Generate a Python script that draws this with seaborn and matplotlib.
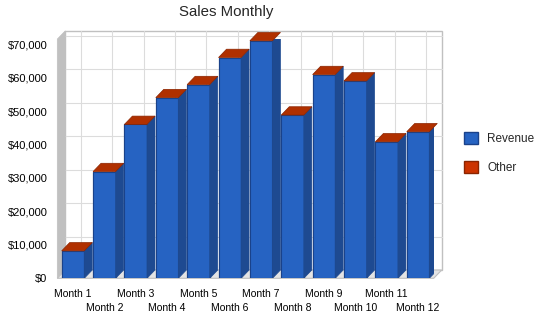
import matplotlib
matplotlib.use("Agg")
import matplotlib.pyplot as plt
from matplotlib.patches import Polygon, Patch
import pandas as pd
import seaborn as sns

## Data
months = ["Month 1", "Month 2", "Month 3", "Month 4", "Month 5", "Month 6",
          "Month 7", "Month 8", "Month 9", "Month 10", "Month 11", "Month 12"]
revenue = [8200, 31900, 46000, 54000, 57900, 66000, 71000, 48800, 60900, 59000, 40800, 43800]
other = [0, 0, 0, 0, 0, 0, 0, 0, 0, 0, 0, 0]
ytick_vals = [0, 10000, 20000, 30000, 40000, 50000, 60000, 70000]
ytick_labels = ["$0", "$10,000", "$20,000", "$30,000", "$40,000", "$50,000", "$60,000", "$70,000"]

df = pd.DataFrame({"month": months, "Revenue": revenue, "Other": other})
df["total"] = df["Revenue"] + df["Other"]

## Style
sns.set_style("white")
plt.rcParams["font.family"] = ["Liberation Sans", "DejaVu Sans"]

blue, blue_side, blue_edge = "#2663C2", "#1E4A91", "#1A428A"
red, red_side, red_top = "#CC3300", "#8A2400", "#B03000"
wall, grid = "#C0C0C0", "#DCDCDC"

fig = plt.figure(figsize=(5.5, 3.18), dpi=100)
ax = fig.add_axes([57.3 / 550, (318 - 278.3) / 318, 376.4 / 550, 239.2 / 318])
ymax = 71500
ax.set_xlim(-0.5, 11.5)
ax.set_ylim(0, ymax)

# depth of the fake 3d box, in data units (~8 px each way)
dx = 8 / 31.37
dy = 8.3 / 33.45 * 10000

## Box: back wall, grid, left wall, floor
ax.add_patch(Polygon([(-0.5 + dx, dy), (11.5 + dx, dy), (11.5 + dx, ymax + dy), (-0.5 + dx, ymax + dy)],
                     closed=True, facecolor="white", edgecolor=wall, lw=1, zorder=0.1, clip_on=False))
for v in ytick_vals[1:]:
    ax.plot([-0.5 + dx, 11.5 + dx], [v + dy, v + dy], color=grid, lw=0.8, zorder=0.2, clip_on=False)
for i in range(len(months)):
    ax.plot([i + dx, i + dx], [dy, ymax + dy], color=grid, lw=0.8, zorder=0.2, clip_on=False)
ax.add_patch(Polygon([(-0.5, 0), (-0.5 + dx, dy), (-0.5 + dx, ymax + dy), (-0.5, ymax)],
                     closed=True, facecolor=wall, edgecolor=wall, lw=0.5, zorder=0.3, clip_on=False))
ax.add_patch(Polygon([(-0.5, 0), (11.5, 0), (11.5 + dx, dy), (-0.5 + dx, dy)],
                     closed=True, facecolor="#E4E4E4", edgecolor=wall, lw=0.8, zorder=0.3, clip_on=False))

## Bars: total in red, revenue on top in blue (stacked)
sns.barplot(data=df, x="month", y="total", color=red, saturation=1, width=0.72,
            edgecolor=blue_edge, linewidth=0.8, ax=ax, zorder=2)
sns.barplot(data=df, x="month", y="Revenue", color=blue, saturation=1, width=0.72,
            edgecolor=blue_edge, linewidth=0.8, ax=ax, zorder=2)

tot_bars = ax.containers[0]
rev_bars = ax.containers[1]
for tb, rb in zip(tot_bars, rev_bars):
    x0 = tb.get_x()
    x1 = x0 + tb.get_width()
    r_top = rb.get_height()
    t_top = tb.get_height()
    # side faces
    ax.add_patch(Polygon([(x1, 0), (x1 + dx, dy), (x1 + dx, r_top + dy), (x1, r_top)],
                         closed=True, facecolor=blue_side, edgecolor=blue_side, lw=0.5, zorder=2))
    if t_top > r_top:
        ax.add_patch(Polygon([(x1, r_top), (x1 + dx, r_top + dy), (x1 + dx, t_top + dy), (x1, t_top)],
                             closed=True, facecolor=red_side, edgecolor=red_side, lw=0.5, zorder=2))
    # top face takes the colour of the top series
    ax.add_patch(Polygon([(x0, t_top), (x0 + dx, t_top + dy), (x1 + dx, t_top + dy), (x1, t_top)],
                         closed=True, facecolor=red_top, edgecolor=red_side, lw=0.5, zorder=2.1,
                         clip_on=False))

## Axes text
sns.despine(ax=ax, left=True, bottom=True)
ax.set_xlabel("")
ax.set_ylabel("")
ax.set_yticks(ytick_vals, ytick_labels)
ax.tick_params(axis="y", length=0, pad=7, labelsize=8, labelcolor="black")
ax.set_xticks(range(len(months)), months)
ax.tick_params(axis="x", length=4.3, width=0.8, color="#D0D0D0", direction="out",
               labelsize=7.5, labelcolor="black")
for i, tick in enumerate(ax.xaxis.get_major_ticks()):
    tick.set_pad(3.5 if i % 2 == 0 else 13.5)

fig.text(226 / 550, 1 - 12 / 318, "Sales Monthly", ha="center", va="center", fontsize=10.8)

handles = [Patch(facecolor=blue, edgecolor=blue_edge, label="Revenue"),
           Patch(facecolor=red, edgecolor="#8A2400", label="Other")]
fig.legend(handles=handles, loc="upper left", bbox_to_anchor=(464 / 550, 1 - 132 / 318),
           frameon=False, fontsize=8.5, handlelength=1.15, handleheight=1.15,
           handletextpad=0.8, labelspacing=1.4, borderpad=0, borderaxespad=0)

plt.savefig("out.png", dpi=100)
plt.close()
